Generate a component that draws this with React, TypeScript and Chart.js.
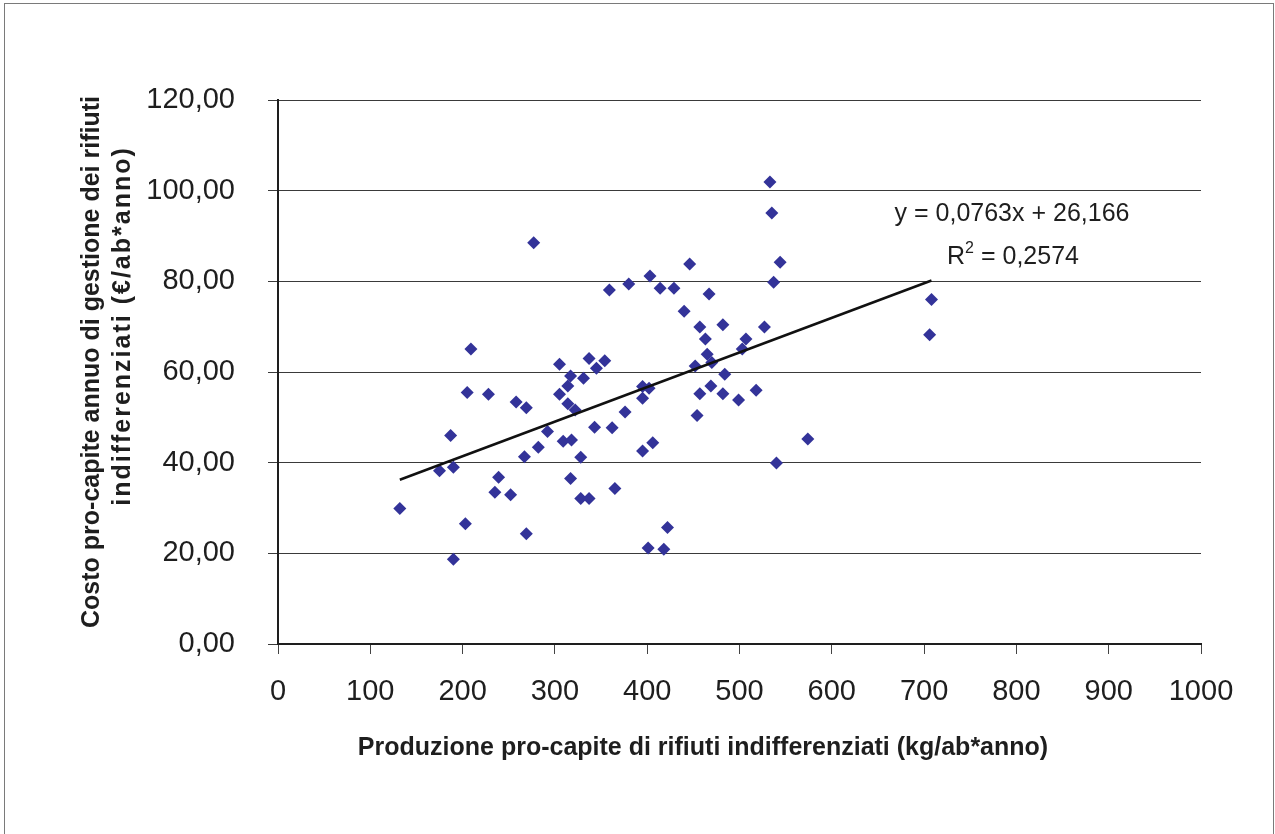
import React, { useEffect, useRef } from "react";
import { Chart, registerables } from "chart.js";

Chart.register(...registerables);

const FONT = "'Liberation Sans', Arial, Helvetica, sans-serif";

// Produzione pro-capite (kg/ab*anno)
const productionKg = [
  132, 175, 187, 190, 190, 203, 205, 209, 228, 235, 239, 252, 258, 267, 269, 269, 277, 282, 292, 305,
  305, 309, 314, 314, 317, 317, 318, 322, 328, 328, 331, 337, 337, 343, 345, 354, 359, 362, 365, 376,
  380, 395, 395, 395, 401, 402, 403, 406, 414, 418, 422, 429, 440, 446, 452, 454, 457, 457, 463, 465,
  467, 469, 470, 482, 482, 484, 499, 503, 507, 518, 527, 533, 535, 537, 540, 544, 574, 706, 708,
];
// Costo pro-capite (€/ab*anno)
const costEuro = [
  29.9, 38.2, 46.0, 39.0, 18.7, 26.5, 55.5, 65.1, 55.1, 33.5, 36.8, 32.9, 53.4, 41.3, 52.1, 24.3, 88.5, 43.4, 46.9, 61.7,
  55.1, 44.7, 56.9, 53.0, 59.1, 36.5, 45.0, 51.6, 41.2, 32.1, 58.6, 63.0, 32.1, 47.8, 60.8, 62.5, 78.1, 47.7, 34.3, 51.2,
  79.4, 56.8, 54.2, 42.6, 21.2, 56.4, 81.2, 44.4, 78.5, 20.9, 25.7, 78.5, 73.4, 83.8, 61.3, 50.4, 69.9, 55.2, 67.3, 63.9,
  77.2, 56.9, 62.1, 70.4, 55.2, 59.5, 53.8, 65.1, 67.3, 56.0, 69.9, 101.9, 95.1, 79.8, 39.9, 84.2, 45.2, 68.2, 76.0,
];

const trendSlope = 0.0763;
const trendIntercept = 26.166;
const equationText = "y = 0,0763x + 26,166";
const r2Value = "0,2574";

const xTicks = [0, 100, 200, 300, 400, 500, 600, 700, 800, 900, 1000];
const yTicks = [0, 20, 40, 60, 80, 100, 120];
const yTickLabels = ["0,00", "20,00", "40,00", "60,00", "80,00", "100,00", "120,00"];

const yTitleLines = ["Costo pro-capite annuo di gestione dei rifiuti", "indifferenziati (€/ab*anno)"];
const xTitle = "Produzione pro-capite di rifiuti indifferenziati (kg/ab*anno)";

const textPlugin = {
  id: "customTexts",
  afterDraw(chart: any) {
    const { ctx } = chart;
    ctx.save();
    ctx.fillStyle = "#1e1e1e";
    // Y title (rotated)
    ctx.font = `bold 25px ${FONT}`;
    ctx.textAlign = "center";
    ctx.textBaseline = "alphabetic";
    const titleLayout = [
      { base: 99, cy: 362, spacing: "0px" },
      { base: 130, cy: 326, spacing: "2px" },
    ];
    yTitleLines.forEach((line, i) => {
      ctx.save();
      (ctx as any).letterSpacing = titleLayout[i].spacing;
      ctx.translate(titleLayout[i].base, titleLayout[i].cy);
      ctx.rotate(-Math.PI / 2);
      ctx.fillText(line, 0, 0);
      ctx.restore();
    });
    // X title
    ctx.fillText(xTitle, 703, 755);

    // Trendline equation
    ctx.font = `25px ${FONT}`;
    ctx.fillText(equationText, 1012, 221);
    // R^2
    const mainFont = `25px ${FONT}`;
    const supFont = `16px ${FONT}`;
    ctx.font = mainFont;
    const wR = ctx.measureText("R").width;
    const wRest = ctx.measureText(" = " + r2Value).width;
    ctx.font = supFont;
    const wSup = ctx.measureText("2").width;
    const total = wR + wSup + wRest;
    let x = 1013 - total / 2;
    ctx.textAlign = "left";
    ctx.font = mainFont;
    ctx.fillText("R", x, 264);
    x += wR;
    ctx.font = supFont;
    ctx.fillText("2", x, 253);
    x += wSup;
    ctx.font = mainFont;
    ctx.fillText(" = " + r2Value, x, 264);
    ctx.restore();
  },
};

export default function App() {
  const canvasRef = useRef<HTMLCanvasElement | null>(null);

  useEffect(() => {
    if (!canvasRef.current) return;
    const points = productionKg.map((x, i) => ({ x, y: costEuro[i] }));
    const minX = Math.min(...productionKg);
    const maxX = Math.max(...productionKg);
    const trend = [
      { x: minX, y: trendSlope * minX + trendIntercept },
      { x: maxX, y: trendSlope * maxX + trendIntercept },
    ];

    const chart = new Chart(canvasRef.current, {
      type: "scatter",
      data: {
        datasets: [
          {
            type: "line",
            data: trend,
            borderColor: "#111111",
            borderWidth: 2.5,
            pointRadius: 0,
            showLine: true,
            fill: false,
            order: 0,
          } as any,
          {
            data: points,
            pointStyle: "rectRot",
            pointRadius: 6.5,
            backgroundColor: "#333399",
            borderColor: "#333399",
            borderWidth: 0,
            order: 1,
          },
        ],
      },
      options: {
        animation: false,
        responsive: false,
        devicePixelRatio: 1,
        layout: { padding: { left: 0, top: 100, right: 74, bottom: 0 } },
        plugins: {
          legend: { display: false },
          tooltip: { enabled: false },
        },
        scales: {
          x: {
            type: "linear",
            min: 0,
            max: 1000,
            afterBuildTicks: (scale: any) => {
              scale.ticks = xTicks.map((v) => ({ value: v }));
            },
            afterFit: (scale: any) => {
              scale.height = 190;
            },
            ticks: {
              color: "#1e1e1e",
              font: { family: FONT, size: 29 },
              padding: 21,
              maxRotation: 0,
              autoSkip: false,
              callback: (v: any) => String(v),
            },
            grid: {
              display: true,
              drawOnChartArea: false,
              drawTicks: true,
              tickLength: 10,
              color: "#444444",
              lineWidth: 1,
            },
            border: { display: true, color: "#1e1e1e", width: 2 },
          },
          y: {
            type: "linear",
            min: 0,
            max: 120,
            afterBuildTicks: (scale: any) => {
              scale.ticks = yTicks.map((v) => ({ value: v }));
            },
            afterFit: (scale: any) => {
              scale.width = 278;
            },
            ticks: {
              color: "#1e1e1e",
              font: { family: FONT, size: 29 },
              padding: 33,
              autoSkip: false,
              callback: (v: any) => {
                const idx = yTicks.indexOf(Number(v));
                return idx >= 0 ? yTickLabels[idx] : "";
              },
            },
            grid: {
              display: true,
              drawOnChartArea: true,
              drawTicks: true,
              tickLength: 10,
              color: "#3a3a3a",
              lineWidth: 1,
            },
            border: { display: true, color: "#1e1e1e", width: 2 },
          },
        },
      },
      plugins: [textPlugin],
    });

    return () => chart.destroy();
  }, []);

  return (
    <div style={{ position: "fixed", left: 0, top: 0, width: 1275, height: 834, background: "#ffffff", overflow: "hidden" }}>
      <canvas ref={canvasRef} width={1275} height={834} style={{ position: "absolute", left: 0, top: 0, width: 1275, height: 834 }} />
      <div
        style={{
          position: "absolute",
          left: 4,
          top: 3,
          width: 1268,
          height: 900,
          border: "1px solid #7a7a7a",
          pointerEvents: "none",
        }}
      />
    </div>
  );
}
